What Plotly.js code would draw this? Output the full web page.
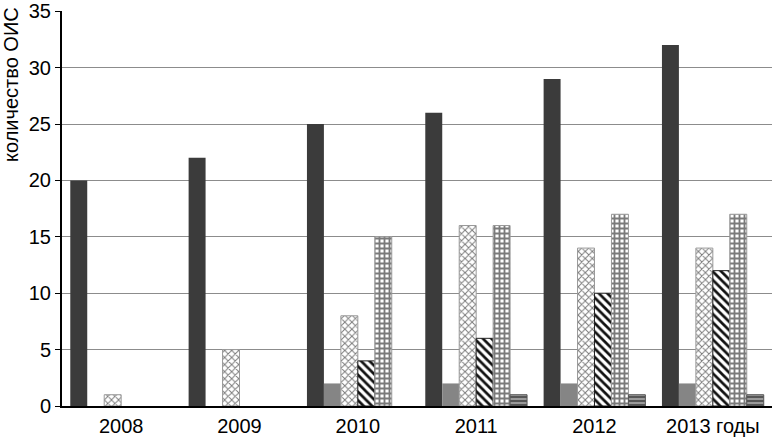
<!DOCTYPE html>
<html><head><meta charset="utf-8">
<script src="https://cdn.plot.ly/plotly-3.0.1.min.js"></script>
<style>html,body{margin:0;padding:0;background:#fff}#c{width:774px;height:439px}</style>
</head><body><div id="c"></div>
<script>
const categories = ["2008","2009","2010","2011","2012","2013"];
const tickLabels = ["2008","2009","2010","2011","2012","2013 годы"];
const s1 = [20,22,25,26,29,32];
const s2 = [0,0,2,2,2,2];
const s3 = [1,5,8,16,14,14];
const s4 = [0,0,4,6,10,12];
const s5 = [0,0,15,16,17,17];
const s6 = [0,0,0,1,1,1];
const yTicks = [0,5,10,15,20,25,30,35];
const yTitle = "количество ОИС";

const lw = arr => arr.map(v => v > 0 ? 1 : 0);
const traces = [
  {y:s1, marker:{color:"#3b3b3b"}},
  {y:s2, marker:{color:"#858585"}},
  {y:s3, marker:{color:"#ffffff", line:{color:"#999999",width:lw(s3)}, pattern:{shape:"x", fgcolor:"#7a7a7a", bgcolor:"#ffffff", size:5, solidity:0.35}}},
  {y:s4, marker:{color:"#ffffff", line:{color:"#222222",width:lw(s4)}, pattern:{shape:"\\", fgcolor:"#111111", bgcolor:"#ffffff", size:6, solidity:0.45}}},
  {y:s5, marker:{color:"#ffffff", line:{color:"#999999",width:lw(s5)}, pattern:{shape:"+", fgcolor:"#7a7a7a", bgcolor:"#ffffff", size:5, solidity:0.6}}},
  {y:s6, marker:{color:"#9a9a9a", line:{color:"#555555",width:lw(s6)}, pattern:{shape:"-", fgcolor:"#444444", bgcolor:"#9a9a9a", size:4, solidity:0.4}}}
].map(t => Object.assign({type:"bar", x:categories, showlegend:false, hoverinfo:"none"}, t));

const layout = {
  width:774, height:439,
  margin:{l:62, r:2, t:11, b:33},
  paper_bgcolor:"#fff", plot_bgcolor:"#fff",
  barmode:"group", bargap:0.14, bargroupgap:0,
  font:{family:"Liberation Sans, Arial, sans-serif", size:20, color:"#000"},
  xaxis:{type:"category", tickvals:categories, ticktext:tickLabels, showline:true, linecolor:"#000", linewidth:2,
         showgrid:false, ticks:"", tickfont:{size:20}, ticklabelstandoff:1},
  yaxis:{range:[0,35.02], tickmode:"array", tickvals:yTicks, showline:true, linecolor:"#000", linewidth:2, showgrid:true, gridcolor:"#8c8c8c",
         gridwidth:1, ticks:"outside", ticklen:5, tickcolor:"#000", tickfont:{size:20}, zeroline:false, ticklabeloverflow:"allow"},
  annotations:[{text:yTitle, xref:"paper", yref:"paper", x:-0.072, y:0.815, textangle:-90, showarrow:false,
                xanchor:"center", yanchor:"middle", font:{size:20}}]
};
Plotly.newPlot("c", traces, layout, {staticPlot:true});
</script></body></html>
